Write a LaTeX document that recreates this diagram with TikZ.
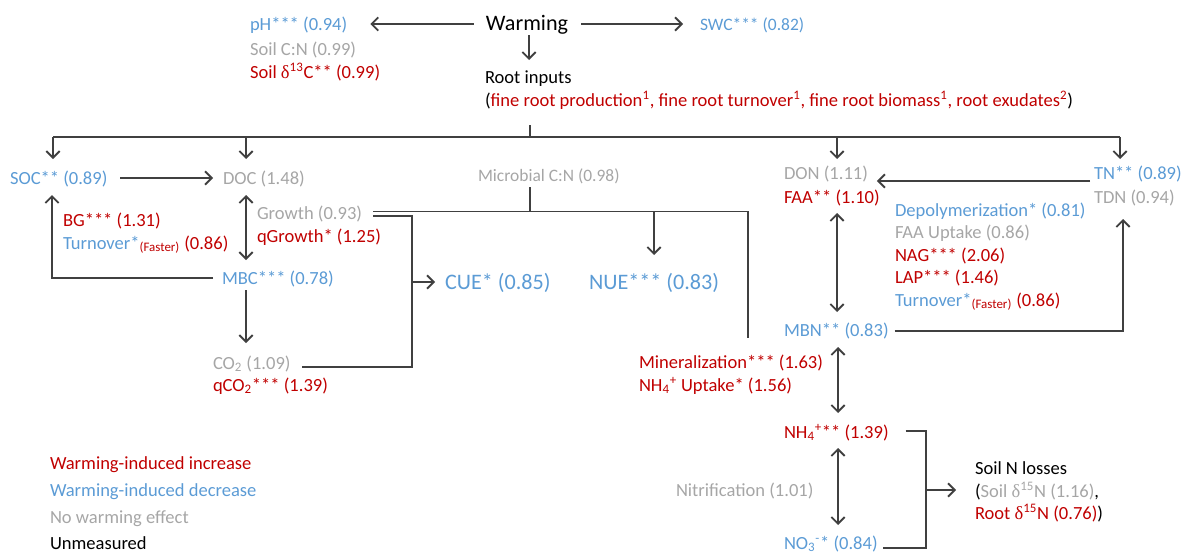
\documentclass[tikz,border=0pt]{standalone}
\usepackage{fontspec}
\setmainfont{Carlito}
\newfontfamily\grk{Liberation Serif}
\usetikzlibrary{arrows.meta,calc}
\definecolor{incr}{HTML}{C00000}
\definecolor{decr}{HTML}{5B9BD5}
\definecolor{noeff}{HTML}{A6A6A6}
\definecolor{link}{HTML}{404040}
\newcommand{\dlt}{{\grk δ}}

\begin{document}
\begin{tikzpicture}[x=0.75pt,y=-0.75pt,
  lbl/.style={anchor=west,inner sep=0pt,outer sep=0pt,
    font=\fontsize{13.9}{16}\selectfont,text height=9pt,text depth=0pt},
  small/.style={lbl,font=\fontsize{13.1}{15}\selectfont},
  big/.style={lbl,font=\fontsize{16.6}{19}\selectfont,text height=10.5pt},
  up/.style={lbl,text=incr},
  down/.style={lbl,text=decr},
  none/.style={lbl,text=noeff},
  wire/.style={draw=link,line width=1.4pt},
  tipb/.tip={Straight Barb[length=5pt,width=10pt]},
  flow/.style={wire,-tipb},
  both/.style={wire,tipb-tipb}]

\useasboundingbox (0,0) rectangle (1184,553);

% ---------- driver and site properties ----------
\node[big,anchor=center] (warm) at (527,23) {Warming};
\node[down] (ph) at (250,25) {pH*** (0.94)};
\node[none] (soilcn) at (250,49) {Soil C:N (0.99)};
\node[up] (soild) at (250,72) {Soil \dlt\textsuperscript{13}C** (0.99)};
\node[small,text=decr] (swc) at (700,25) {SWC*** (0.82)};
\node[lbl] (root) at (485,77) {Root inputs};
\node[lbl] (rootlist) at (485,100) {(\textcolor{incr}{fine root production\textsuperscript{1}, fine root turnover\textsuperscript{1}, fine root biomass\textsuperscript{1}, root exudates\textsuperscript{2}})};

\draw[flow] ($(warm.west)+(-12,1)$) -- ($(ph.east|-warm.west)+(23,1)$);
\draw[flow] ($(warm.east)+(13,1)$) -- ($(swc.west|-warm.east)+(-17,1)$);
\draw[flow] ($(warm.south)+(2,5)$) -- ($(warm.south)+(2,30)$);

% ---------- distribution bar under root inputs ----------
\coordinate (rootfoot) at (530,125);
\coordinate (bar) at (530,137);
\coordinate (dSOC) at (53,137);
\coordinate (dDOC) at (246,137);
\coordinate (dDON) at (837,137);
\coordinate (dTN) at (1120,137);
\draw[wire] (rootfoot) -- (bar);
\draw[wire] (dSOC) -- (dTN);

% ---------- carbon side ----------
\node[down] (soc) at (10,178) {SOC** (0.89)};
\node[none] (doc) at (223,178) {DOC (1.48)};
\node[up] (bg) at (63,220) {BG*** (1.31)};
\node[down] (turnc) at (63,243) {Turnover*\textcolor{incr}{\textsubscript{(Faster)} (0.86)}};
\node[none] (growth) at (257,213) {Growth (0.93)};
\node[up] (qgrowth) at (257,236) {qGrowth* (1.25)};
\node[down] (mbc) at (222,278) {MBC*** (0.78)};
\node[none] (co2) at (213,363) {CO\textsubscript{2} (1.09)};
\node[up] (qco2) at (213,385) {qCO\textsubscript{2}*** (1.39)};
\node[big,text=decr] (cue) at (445,282) {CUE* (0.85)};
\node[big,text=decr] (nue) at (589,282) {NUE*** (0.83)};
\node[small,text=noeff] (micro) at (478,175) {Microbial C:N (0.98)};

\draw[flow] (dSOC) -- ($(dSOC|-soc.north)+(0,-13)$);
\draw[flow] (dDOC) -- ($(dDOC|-doc.north)+(0,-13)$);
\draw[flow] ($(soc.east)+(13,0)$) -- ($(doc.west)+(-10,0)$);
\draw[both] ($(dDOC|-doc.south)+(0,11)$) -- ($(dDOC|-mbc.north)+(0,-12)$);
\draw[flow] ($(mbc.west)+(-9,0)$) -- ($(dSOC|-mbc.west)+(-1,0)$) -- ($(dSOC|-soc.south)+(-1,11)$);
\draw[flow] ($(dDOC|-mbc.south)+(0,6)$) -- ($(dDOC|-co2.north)+(0,-14)$);

\coordinate (cueJ) at (412,282);
\draw[wire] ($(growth.east)+(11,3)$) -| (cueJ) |- ($(co2.east)+(11,4)$);
\draw[flow] (cueJ) -- ($(cue.west)+(-10,0)$);

\coordinate (mJ) at (530,211.5);
\coordinate (mnJ) at (748,211.5);
\node[up] (minz) at (639,362) {Mineralization*** (1.63)};
\node[up] (nh4up) at (639,385) {NH\textsubscript{4}\textsuperscript{+} Uptake* (1.56)};
\draw[wire] ($(micro.south -| mJ)+(0,6)$) -- (mJ);
\draw[wire] ($(growth.east |- mJ)+(11,0)$) -- (mnJ) -- ($(mnJ|-minz.north)+(0,-18)$);
\draw[flow] (nue.north |- mJ) -- ($(nue.north)+(0,-20)$);

% ---------- nitrogen side ----------
\node[none] (don) at (784,173) {DON (1.11)};
\node[up] (faa) at (784,197) {FAA** (1.10)};
\node[down] (tn) at (1094,173) {TN** (0.89)};
\node[none] (tdn) at (1094,197) {TDN (0.94)};
\node[down] (depol) at (895,210) {Depolymerization* (0.81)};
\node[none] (faaup) at (895,232) {FAA Uptake (0.86)};
\node[up] (nag) at (895,255) {NAG*** (2.06)};
\node[up] (lap) at (895,277) {LAP*** (1.46)};
\node[down] (turnn) at (895,300) {Turnover*\textcolor{incr}{\textsubscript{(Faster)} (0.86)}};
\node[down] (mbn) at (784,330) {MBN** (0.83)};
\node[up] (nh4) at (784,432) {NH\textsubscript{4}\textsuperscript{+}** (1.39)};
\node[none] (nitri) at (676,490) {Nitrification (1.01)};
\node[down] (no3) at (784,543) {NO\textsubscript{3}\textsuperscript{-}* (0.84)};

\draw[flow] (dDON) -- ($(dDON|-don.north)+(0,-8)$);
\draw[flow] (dTN) -- ($(dTN|-tn.north)+(0,-8)$);
\draw[flow] ($(tn.west)+(-4,8)$) -- ($(don.east|-tn.west)+(9,8)$);
\draw[both] ($(dDON|-faa.south)+(0,10)$) -- ($(dDON|-mbn.north)+(0,-12)$);
\draw[flow] ($(mbn.east)+(6,1)$) -| ($(tdn.south -| dTN)+(3,16)$);
\draw[both] ($(dDON|-mbn.south)+(1,11)$) -- ($(dDON|-nh4.north)+(1,-13)$);
\draw[both] ($(dDON|-nh4.south)+(1,10)$) -- ($(dDON|-no3.north)+(1,-12)$);

% ---------- soil N losses ----------
\node[lbl] (loss) at (975,468) {Soil N losses};
\node[lbl] (loss2) at (975,491) {(\textcolor{noeff}{Soil \dlt\textsuperscript{15}N (1.16)},};
\node[lbl] (loss3) at (975,513) {\textcolor{incr}{Root \dlt\textsuperscript{15}N (0.76)})};
\coordinate (lossJ) at (926,490);
\draw[wire] ($(nh4.east)+(17,-1)$) -| (lossJ) |- ($(no3.east)+(5,5)$);
\draw[flow] (lossJ) -- ($(loss2.west)+(-19,-1)$);

% ---------- legend ----------
\node[up] (legup) at (50,463) {Warming-induced increase};
\node[down] (legdown) at (50,490) {Warming-induced decrease};
\node[none] (legnone) at (50,517) {No warming effect};
\node[lbl] (legunm) at (50,543) {Unmeasured};
\end{tikzpicture}
\end{document}
